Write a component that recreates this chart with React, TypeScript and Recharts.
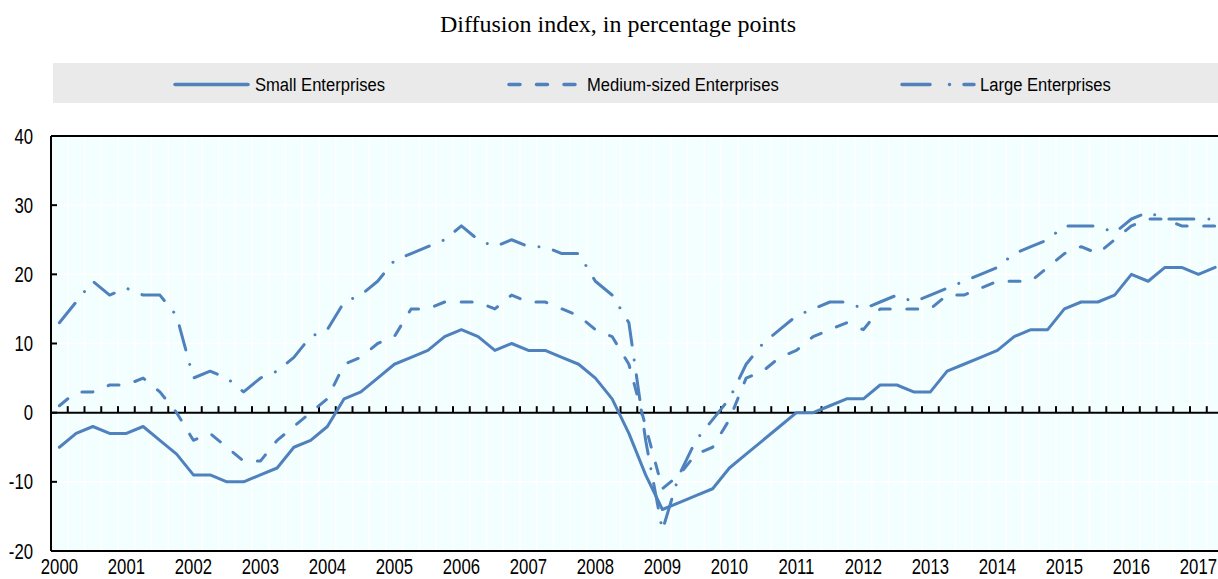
import React from "react";
import { ComposedChart, Line, XAxis, YAxis, CartesianGrid, ReferenceLine } from "recharts";

// Quarterly diffusion index, 2000Q1 - 2017Q2
const YEARS = [2000, 2001, 2002, 2003, 2004, 2005, 2006, 2007, 2008, 2009, 2010, 2011, 2012, 2013, 2014, 2015, 2016, 2017];
const QUARTERS = YEARS.flatMap((y) => ["Q1", "Q2", "Q3", "Q4"].map((q) => `${y}-${q}`)).slice(0, 70);

const SMALL = [
  -5, -3, -2, -3, -3, -2, -4, -6, -9, -9, -10, -10, -9, -8, -5, -4,
  -2, 2, 3, 5, 7, 8, 9, 11, 12, 11, 9, 10, 9, 9, 8, 7,
  5, 2, -3, -9, -14, -13, -12, -11, -8, -6, -4, -2, 0, 0, 1, 2,
  2, 4, 4, 3, 3, 6, 7, 8, 9, 11, 12, 12, 15, 16, 16, 17,
  20, 19, 21, 21, 20, 21,
];
const MEDIUM = [
  1, 3, 3, 4, 4, 5, 3, 0, -4, -3, -5, -7, -7, -4, -2, 0,
  2, 7, 8, 10, 11, 15, 15, 16, 16, 16, 15, 17, 16, 16, 15, 14,
  12, 11, 7, -2, -11, -9, -6, -5, -1, 5, 6, 8, 9, 11, 12, 13,
  12, 15, 15, 15, 15, 17, 17, 18, 19, 19, 19, 21, 23, 24, 23, 25,
  27, 28, 28, 27, 27, 27,
];
const LARGE = [
  13, 16, 19, 17, 18, 17, 17, 14, 5, 6, 5, 3, 5, 6, 8, 11,
  12, 16, 17, 19, 22, 23, 24, 25, 27, 25, 24, 25, 24, 24, 23, 23,
  19, 17, 13, -4, -17, -9, -4, -1, 2, 7, 10, 12, 14, 15, 16, 16,
  15, 16, 17, 16, 17, 18, 19, 20, 21, 23, 24, 25, 27, 27, 27, 26,
  28, 29, 28, 28, 28, 28,
];
const Y_TICKS = [-20, -10, 0, 10, 20, 30, 40];
const Y_DOMAIN: [number, number] = [-20, 40];

const BLUE = "#4F81BD";
const SANS = "'Liberation Sans', Arial, sans-serif";
const SERIF = "'Liberation Serif', 'Times New Roman', serif";

const SERIES = [
  { key: "small", name: "Small Enterprises", dash: undefined as string | undefined, legendDash: undefined as string | undefined, x0: 175, x1: 248, tx: 255 },
  { key: "medium", name: "Medium-sized Enterprises", dash: "11 16.5", legendDash: "11 16.5", x0: 509, x1: 576, tx: 587 },
  { key: "large", name: "Large Enterprises", dash: "25 15 0.01 15", legendDash: "28 19.5 0.01 14.5", x0: 902, x1: 974, tx: 980 },
];

const data = QUARTERS.map((q, i) => ({ idx: i, quarter: q, small: SMALL[i], medium: MEDIUM[i], large: LARGE[i] }));
const BOUNDS = QUARTERS.map((_, i) => i - 0.5);
const YEAR_TICKS = YEARS.map((_, k) => k * 4);
const X_DOMAIN: [number, number] = [-0.5, 69.17];
const Y_LABEL_GAP = 18;

function YearTick({ x, y, payload }: any) {
  return (
    <text transform={`translate(${x},${y + 21}) scale(0.88,1.12)`} textAnchor="middle"
      fill="#000" fontSize={19} fontFamily={SANS}>
      {YEARS[payload.value / 4]}
    </text>
  );
}

// value label plus the small inner tick mark on the axis
function ValueTick({ x, y, payload }: any) {
  const ax = x + Y_LABEL_GAP;
  return (
    <g>
      <text transform={`translate(${x},${y + 7.5}) scale(0.88,1.12)`} textAnchor="end"
        fill="#000" fontSize={19} fontFamily={SANS}>
        {payload.value}
      </text>
      <line x1={ax} x2={ax + 6} y1={y} y2={y} stroke="#000" strokeWidth={2} />
    </g>
  );
}

// zero line with the quarterly tick marks standing on it
function ZeroLine({ x1, y1, x2, y2 }: any) {
  const span = X_DOMAIN[1] - X_DOMAIN[0];
  return (
    <g>
      <line x1={x1} y1={y1} x2={x2} y2={y2} stroke="#000" strokeWidth={2} />
      {BOUNDS.slice(1).map((b) => {
        const x = x1 + ((b - X_DOMAIN[0]) * (x2 - x1)) / span;
        return <line key={b} x1={x} x2={x} y1={y1} y2={y1 - 6.5} stroke="#000" strokeWidth={2} />;
      })}
    </g>
  );
}

function quarterLines({ xAxis, offset }: any) {
  if (xAxis && typeof xAxis.scale === "function") return BOUNDS.slice(1).map((b) => xAxis.scale(b));
  const span = X_DOMAIN[1] - X_DOMAIN[0];
  return BOUNDS.slice(1).map((b) => offset.left + ((b - X_DOMAIN[0]) * offset.width) / span);
}

function Header() {
  return (
    <svg width={1218} height={110} style={{ position: "absolute", left: 0, top: 0 }}>
      <text x={618} y={32} textAnchor="middle" fontSize={24} fontFamily={SERIF} fill="#000">
        Diffusion index, in percentage points
      </text>
      <rect x={53} y={63} width={1165} height={40} fill="#EAEAEA" />
      {SERIES.map((s) => (
        <g key={s.key}>
          <line x1={s.x0} x2={s.x1} y1={84.5} y2={84.5} stroke={BLUE} strokeWidth={3.5}
            strokeDasharray={s.legendDash} strokeLinecap="round" />
          <text transform={`translate(${s.tx},91) scale(0.873,1)`} fontSize={19} fontFamily={SANS} fill="#000">
            {s.name}
          </text>
        </g>
      ))}
    </svg>
  );
}

export default function App() {
  return (
    <div style={{ position: "absolute", left: 0, top: 0, width: 1218, height: 579, background: "#fff", overflow: "hidden" }}>
      <Header />
      <div style={{ position: "absolute", left: 0, top: 0 }}>
        <ComposedChart width={1218} height={579} data={data} margin={{ top: 136, right: 0, bottom: 0, left: 0 }}>
          <CartesianGrid fill="#F3FFFF" stroke="#FFFFFF" strokeWidth={1.5}
            verticalCoordinatesGenerator={quarterLines} />
          <XAxis type="number" dataKey="idx" domain={X_DOMAIN} allowDataOverflow
            ticks={YEAR_TICKS} interval={0} tickLine={false} tickSize={0} tickMargin={2} height={28}
            axisLine={{ stroke: "#000", strokeWidth: 2 }} tick={<YearTick />} />
          <YAxis type="number" domain={Y_DOMAIN} ticks={Y_TICKS} interval={0} width={51}
            tickLine={false} tickSize={0} tickMargin={Y_LABEL_GAP}
            axisLine={{ stroke: "#000", strokeWidth: 2 }} tick={<ValueTick />} />
          <ReferenceLine y={40} stroke="#000" strokeWidth={2} />
          <ReferenceLine y={0} stroke="#000" strokeWidth={2} shape={ZeroLine} />
          {SERIES.map((s) => (
            <Line key={s.key} type="linear" dataKey={s.key} name={s.name}
              stroke={BLUE} strokeWidth={3} strokeDasharray={s.dash}
              strokeLinecap="round" strokeLinejoin="round" dot={false} activeDot={false}
              isAnimationActive={false} />
          ))}
        </ComposedChart>
      </div>
    </div>
  );
}
